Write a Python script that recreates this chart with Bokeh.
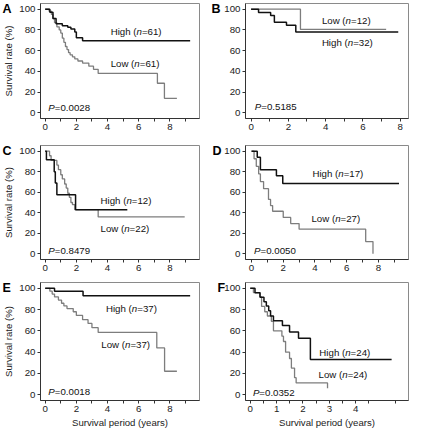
from bokeh.plotting import figure
from bokeh.layouts import column, row
from bokeh.models import FixedTicker, Label, ColumnDataSource, Range1d
from bokeh.core.properties import value
from bokeh.embed import file_html
from bokeh.resources import INLINE

# ---------------- data ----------------
letters = ["A", "B", "C", "D", "E", "F"]
p_values = ["0.0028", "0.5185", "0.8479", "0.0050", "0.0018", "0.0352"]
high_n = ["61", "32", "12", "17", "37", "24"]
low_n = ["61", "12", "22", "27", "37", "24"]

A_high_t = [0, 0.3, 0.5, 0.7, 1.1, 1.45, 1.65, 1.9, 2.0, 2.4, 9.3]
A_high_s = [100, 97, 91, 86, 84, 82.5, 81, 78, 72.5, 69.5, 69.5]
A_low_t = [0, 0.25, 0.4, 0.5, 0.6, 0.75, 0.9, 1.0, 1.1, 1.2, 1.3, 1.4, 1.5, 1.6, 1.75, 1.9, 2.1, 2.4, 2.8, 3.1, 3.4, 7.2, 7.65, 8.45]
A_low_s = [100, 98, 95, 91, 87, 83, 80, 77, 72, 68, 64, 61, 58, 56, 54, 52, 50, 48, 45, 42, 38, 28.5, 14, 14]

B_high_t = [0, 0.4, 1.05, 1.25, 1.9, 2.4, 7.9]
B_high_s = [100, 96.9, 93.8, 87.5, 84.4, 78, 78]
B_low_t = [0, 2.65, 7.25]
B_low_s = [100, 80.5, 80.5]

C_high_t = [0, 0.08, 0.58, 0.65, 0.75, 1.95, 5.27]
C_high_s = [100, 91.7, 80, 69, 57.5, 43, 43]
C_low_t = [0, 0.28, 0.38, 0.75, 0.85, 1.0, 1.1, 1.25, 1.35, 1.45, 1.55, 1.65, 1.75, 1.9, 3.4, 8.95]
C_low_s = [100, 95.5, 91, 86.4, 82, 77, 73, 68, 64, 59, 55, 50, 48, 43, 36, 36]

D_high_t = [0, 0.36, 0.56, 1.57, 1.97, 9.3]
D_high_s = [100, 94, 82, 76, 68.5, 68.5]
D_low_t = [0, 0.16, 0.3, 0.45, 0.56, 0.76, 1.07, 1.2, 1.33, 2.0, 2.47, 3.0, 7.2, 7.66]
D_low_s = [100, 92.6, 85.2, 77.8, 70.4, 63.5, 53, 47, 41.5, 35.5, 29.5, 24, 12, 0]

E_high_t = [0, 0.6, 2.43, 9.3]
E_high_s = [100, 97.3, 93, 93]
E_low_t = [0, 0.3, 0.45, 0.6, 0.85, 1.05, 1.2, 1.4, 1.8, 2.0, 2.4, 2.75, 3.0, 3.4, 7.16, 7.66, 8.45]
E_low_s = [100, 97.3, 94.6, 91.9, 89, 86, 83.5, 81, 78, 74.5, 70.5, 67, 63, 58.5, 44, 22, 22]

F_high_t = [0, 0.18, 0.37, 0.52, 0.61, 0.7, 0.77, 0.88, 1.22, 1.49, 1.83, 2.28, 5.36]
F_high_s = [100, 95.8, 91.7, 87.5, 83.3, 79, 74, 69.5, 65, 59, 53, 33, 33]
F_low_t = [0, 0.12, 0.37, 0.43, 0.55, 0.65, 0.8, 0.88, 1.2, 1.26, 1.34, 1.49, 1.56, 1.68, 1.74, 2.93]
F_low_s = [100, 96, 92, 83, 78, 74, 69, 60, 55, 50, 40, 34, 25, 16, 11, 6]

y_ticks = [0, 20, 40, 60, 80, 100]
x_ticks_long = [0, 2, 4, 6, 8]
x_minor_long = [1, 3, 5, 7, 9]
x_minor_B = [1, 3, 5, 7]
x_ticks_F = [0, 1, 2, 3, 4]
x_minor_F = [0.5, 1.5, 2.5, 3.5, 4.5, 5.5]

y_label = "Survival rate (%)"
x_label = "Survival period (years)"

# annotation positions (data units): high label, low label, P label
high_pos = [(4.2, 78), (3.8, 68), (3.55, 51.5), (3.84, 78), (3.9, 81), (2.62, 40)]
low_pos = [(4.2, 48), (3.8, 89), (3.55, 25), (3.78, 34), (3.6, 47), (2.59, 19)]
p_pos = [(0.2, 5), (0.2, 6), (0.2, 3), (0.16, 3), (0.2, 3), (0.1, 2)]

# ---------------- styling ----------------
FONT = "Liberation Sans"
FS = 9.7
WID = {' ': 278, '(': 333, ')': 333, '=': 584, '.': 278, 'H': 722, 'i': 222, 'g': 556,
       'h': 556, 'L': 556, 'o': 556, 'w': 722, 'n': 556, 'P': 667}


def tw(s, size=FS):
    return sum(WID.get(c, 556) for c in s) / 1000.0 * size


def rich(p, x, y, parts):
    norm = dict(x=[], y=[], text=[], xo=[])
    ital = dict(x=[], y=[], text=[], xo=[])
    off = 0.0
    for t, it in parts:
        d = ital if it else norm
        d["x"].append(x); d["y"].append(y); d["text"].append(t); d["xo"].append(off)
        off += tw(t)
    for d, st in ((norm, "normal"), (ital, "italic")):
        if d["x"]:
            p.text(x="x", y="y", text="text", x_offset="xo", source=ColumnDataSource(d),
                   text_font=value(FONT), text_font_size=f"{FS}px", text_font_style=st,
                   text_baseline="middle", text_align="left", text_color="#111")


def panel(i, ht, hs, lt, ls, xr, xt, xm, width, height, bl, br, bt, bb, ylab, xlab, letter_x, letter_side):
    p = figure(width=width, height=height, output_backend="svg", toolbar_location=None,
               x_range=Range1d(*xr), y_range=Range1d(-5.5, 105.5),
               min_border_left=bl, min_border_right=br, min_border_top=bt, min_border_bottom=bb)
    p.xgrid.visible = False
    p.ygrid.visible = False
    p.outline_line_color = "#8a8a8a"
    p.outline_line_width = 1
    p.xaxis.ticker = FixedTicker(ticks=xt, minor_ticks=xm)
    p.yaxis.ticker = FixedTicker(ticks=y_ticks)
    for ax in (p.xaxis, p.yaxis):
        ax.major_tick_in = 0
        ax.major_tick_out = 3
        ax.minor_tick_in = 0
        ax.minor_tick_out = 3
        ax.axis_line_color = "#333333"
        ax.major_tick_line_color = "#333333"
        ax.minor_tick_line_color = "#333333"
        ax.major_label_text_font = FONT
        ax.major_label_text_font_size = f"{FS}px"
        ax.major_label_text_color = "#222222"
        ax.major_label_standoff = 2
        ax.axis_label_text_font = FONT
        ax.axis_label_text_font_size = "9.6px"
        ax.axis_label_text_font_style = "normal"
        ax.axis_label_text_color = "#222222"
        ax.axis_label_standoff = 2
    p.yaxis.minor_tick_line_color = None
    if ylab:
        p.yaxis.axis_label = y_label
    if xlab:
        p.xaxis.axis_label = x_label

    p.step(lt, ls, mode="after", line_color="#7d7d7d", line_width=1.3)
    p.step(ht, hs, mode="after", line_color="#111111", line_width=1.5)

    hx, hy = high_pos[i]
    lx, ly = low_pos[i]
    px, py = p_pos[i]
    rich(p, hx, hy, [("High (", False), ("n", True), ("=" + high_n[i] + ")", False)])
    rich(p, lx, ly, [("Low (", False), ("n", True), ("=" + low_n[i] + ")", False)])
    rich(p, px, py, [("P", True), ("=" + p_values[i], False)])

    p.add_layout(Label(x=letter_x, y=100, x_units="screen", y_units="data", text=letters[i],
                       text_font=FONT, text_font_size="12.5px", text_font_style="bold",
                       text_baseline="middle", text_align="left", text_color="#000000"), letter_side)
    return p


rows_geom = [(140, 3, 22), (139, 5, 20), (152, 3, 31)]
col1 = dict(width=209, bl=35, br=10)
col2 = dict(width=203, bl=36, br=4)
frame_w1 = col1["width"] - col1["bl"] - col1["br"]

series = [(A_high_t, A_high_s, A_low_t, A_low_s), (B_high_t, B_high_s, B_low_t, B_low_s),
          (C_high_t, C_high_s, C_low_t, C_low_s), (D_high_t, D_high_s, D_low_t, D_low_s),
          (E_high_t, E_high_s, E_low_t, E_low_s), (F_high_t, F_high_s, F_low_t, F_low_s)]
xranges = [(-0.3, 9.9), (-0.3, 8.45), (-0.3, 9.9), (-0.38, 9.9), (-0.3, 9.9), (-0.18, 6.0)]
letter_x = [-(frame_w1 + 33), -1, -(frame_w1 + 33), 0, -(frame_w1 + 33), 4]

figs = []
for i in range(6):
    r = i // 2
    c = col1 if i % 2 == 0 else col2
    h, bt, bb = rows_geom[r]
    if i == 5:
        xt, xm = x_ticks_F, x_minor_F
    elif i == 1:
        xt, xm = x_ticks_long, x_minor_B
    else:
        xt, xm = x_ticks_long, x_minor_long
    ht, hs, lt, ls = series[i]
    figs.append(panel(i, ht, hs, lt, ls, xranges[i], xt, xm, c["width"], h, c["bl"], c["br"], bt, bb,
                      ylab=(i % 2 == 0), xlab=(r == 2), letter_x=letter_x[i],
                      letter_side=("right" if i % 2 == 0 else "left")))

layout = column(row(figs[0], figs[1]), row(figs[2], figs[3]), row(figs[4], figs[5]))
open("out.html", "w").write(file_html(layout, INLINE))
